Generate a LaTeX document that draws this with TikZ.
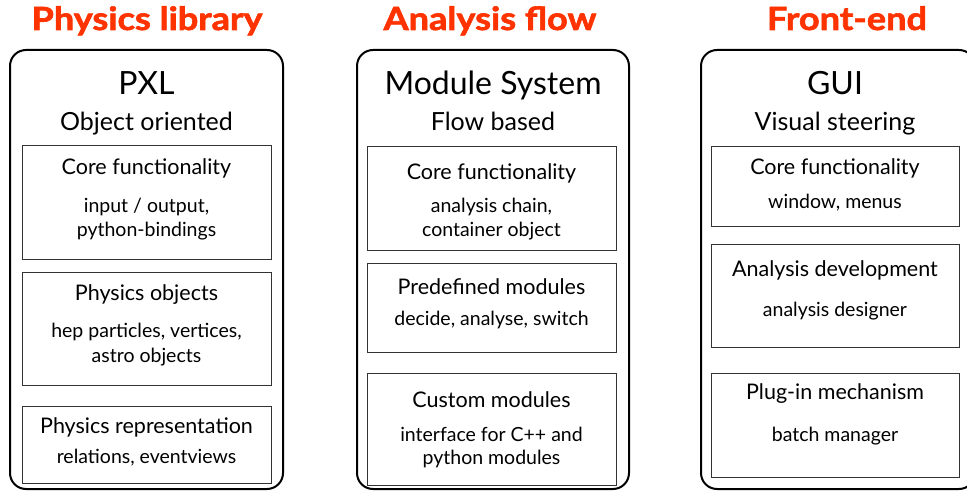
\documentclass[tikz,border=0pt]{standalone}
\usepackage{fontspec}
\setmainfont{Lato}
\newfontfamily\headfont{Lato}[BoldFeatures={FakeBold=2,FakeStretch=1.13}]
\usepackage{xcolor}
\definecolor{headred}{HTML}{FF3300}
\definecolor{framegray}{HTML}{333333}

\begin{document}
\begin{tikzpicture}[x=1pt, y=-1pt,
    panel/.style={draw=black, line width=2pt, rounded corners=16pt, inner sep=0pt},
    part/.style={draw=framegray, line width=1pt, inner sep=0pt},
    head/.style={anchor=base, text=headred, font=\headfont\fontsize{32}{32}\selectfont\bfseries},
    big/.style={anchor=base, font=\fontsize{32}{32}\selectfont},
    sub/.style={anchor=base, font=\fontsize{25}{25}\selectfont},
    ptitle/.style={font=\fontsize{21.5}{21.5}\selectfont},
    pnote/.style={font=\fontsize{19.5}{19.5}\selectfont}]
  \useasboundingbox (0,0) rectangle (967,492);
  \clip (0,0) rectangle (967,492);

  % column headers
  \node[head] (hlib) at (147,30) {Physics library};
  \node[head] (hflow) at (490,30) {Analysis flow};
  \node[head] (hfront) at (847,30) {Front-end};

  % outer panels
  \node[panel, minimum width=273pt, minimum height=439pt] (pxl) at (146.5,269.5) {};
  \node[panel, minimum width=272pt, minimum height=439pt] (modsys) at (493,269.5) {};
  \node[panel, minimum width=274pt, minimum height=439pt] (gui) at (838,269.5) {};

  % PXL
  \node[big] (pxlname) at (146.5,95) {PXL};
  \node[sub] (pxlsub) at (146.5,131) {Object oriented};
  \node[part, minimum width=249pt, minimum height=113pt] (pxlcore) at (146.5,202.5) {};
  \node[ptitle] (pxlcoret) at (146.5,168) {Core functionality};
  \node[pnote] (pxlcoren) at (146.5,207) {input / output,};
  \node[pnote] (pxlcoren2) at (146.5,231) {python-bindings};
  \node[part, minimum width=249pt, minimum height=113pt] (pxlobj) at (146.5,328.5) {};
  \node[ptitle] (pxlobjt) at (146.5,295) {Physics objects};
  \node[pnote] (pxlobjn) at (146.5,332) {hep particles, vertices,};
  \node[pnote] (pxlobjn2) at (146.5,357) {astro objects};
  \node[part, minimum width=249pt, minimum height=77pt] (pxlrep) at (146.5,444.5) {};
  \node[ptitle] (pxlrept) at (146.5,427) {Physics representation};
  \node[pnote] (pxlrepn) at (146.5,458) {relations, eventviews};

  % Module System
  \node[big] (modname) at (493,95) {Module System};
  \node[sub] (modsub) at (493,131) {Flow based};
  \node[part, minimum width=249pt, minimum height=103pt] (modcore) at (491.5,198.5) {};
  \node[ptitle] (modcoret) at (491.5,173) {Core functionality};
  \node[pnote] (modcoren) at (491.5,207) {analysis chain,};
  \node[pnote] (modcoren2) at (491.5,231) {container object};
  \node[part, minimum width=249pt, minimum height=89pt] (modpre) at (491.5,307.5) {};
  \node[ptitle] (modpret) at (491.5,287) {Predefined modules};
  \node[pnote] (modpren) at (491.5,320) {decide, analyse, switch};
  \node[part, minimum width=249pt, minimum height=112pt] (modcus) at (491.5,429) {};
  \node[ptitle] (modcust) at (491.5,400) {Custom modules};
  \node[pnote] (modcusn) at (491.5,434) {interface for C++ and};
  \node[pnote] (modcusn2) at (491.5,459) {python modules};

  % GUI
  \node[big] (guiname) at (835,95) {GUI};
  \node[sub] (guisub) at (835,131) {Visual steering};
  \node[part, minimum width=248pt, minimum height=79pt] (guicore) at (835,186.5) {};
  \node[ptitle] (guicoret) at (835,168) {Core functionality};
  \node[pnote] (guicoren) at (835,203) {window, menus};
  \node[part, minimum width=248pt, minimum height=103pt] (guidev) at (835,295.5) {};
  \node[ptitle] (guidevt) at (835,270) {Analysis development};
  \node[pnote] (guidevn) at (835,311) {analysis designer};
  \node[part, minimum width=248pt, minimum height=104pt] (guiplug) at (835,425) {};
  \node[ptitle] (guiplugt) at (835,394) {Plug-in mechanism};
  \node[pnote] (guiplugn) at (835,436) {batch manager};
\end{tikzpicture}
\end{document}
